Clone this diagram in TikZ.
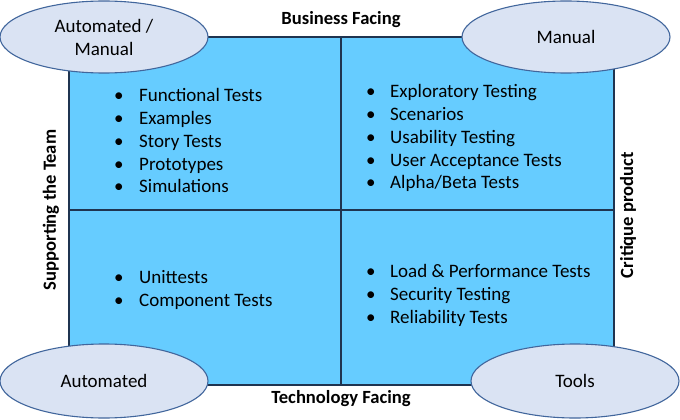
\documentclass[tikz,border=0pt]{standalone}
\usepackage{fontspec}
\setmainfont{Carlito}
\usetikzlibrary{shapes.geometric}
\definecolor{quadfill}{HTML}{66CCFF}
\definecolor{quadline}{HTML}{1F3450}
\definecolor{ellfill}{HTML}{DAE3F3}
\definecolor{ellline}{HTML}{41669C}
\begin{document}
\begin{tikzpicture}[x=1pt,y=-1pt,
  quadbox/.style={draw=quadline,fill=quadfill,line width=1.3pt,inner sep=0pt,outer sep=0pt},
  oval/.style={ellipse,draw=ellline,fill=ellfill,line width=1.1pt,inner sep=0pt,
     minimum width=208pt,minimum height=72pt,align=center,
     font=\fontsize{19}{23}\selectfont},
  axis/.style={font=\fontsize{18.6}{22}\selectfont\bfseries,inner sep=0pt},
  items/.style={anchor=base west,inner sep=0pt,align=left,
     font=\fontsize{19}{23}\selectfont}]
\useasboundingbox (0,0) rectangle (680,420);
% quadrants
\node[quadbox,minimum width=272pt,minimum height=173pt,anchor=north west] (q1) at (69,37) {};
\node[quadbox,minimum width=273pt,minimum height=173pt,anchor=north west] (q2) at (341,37) {};
\node[quadbox,minimum width=272pt,minimum height=175pt,anchor=north west] (q3) at (69,210) {};
\node[quadbox,minimum width=273pt,minimum height=175pt,anchor=north west] (q4) at (341,210) {};
% lists
\node[items] (l1) at (114,101) {\begin{tabular}[t]{@{}p{25pt}@{}l@{}}
•&Functional Tests\\ •&Examples\\ •&Story Tests\\ •&Prototypes\\ •&Simulations\end{tabular}};
\node[items] (l2) at (366,97) {\begin{tabular}[t]{@{}p{24pt}@{}l@{}}
•&Exploratory Testing\\ •&Scenarios\\ •&Usability Testing\\ •&User Acceptance Tests\\ •&Alpha/Beta Tests\end{tabular}};
\node[items] (l3) at (114,283) {\begin{tabular}[t]{@{}p{25pt}@{}l@{}}
•&Unittests\\ •&Component Tests\end{tabular}};
\node[items] (l4) at (366,277) {\begin{tabular}[t]{@{}p{24pt}@{}l@{}}
•&Load \& Performance Tests\\ •&Security Testing\\ •&Reliability Tests\end{tabular}};
% axis labels
\node[axis] (top) at (341,19.5) {Business Facing};
\node[axis] (bot) at (341,398.5) {Technology Facing};
\node[axis,rotate=90] (left) at (51,210) {Supporting the Team};
\node[axis,rotate=90] (right) at (628,215) {Critique product};
% ovals
\node[oval] (e1) at (104,37) {Automated /\\Manual};
\node[oval] (e2) at (566,37) {Manual};
\node[oval,minimum height=74pt] (e3) at (104,381) {Automated};
\node[oval,minimum height=74pt] (e4) at (575,381) {Tools};
\end{tikzpicture}
\end{document}
